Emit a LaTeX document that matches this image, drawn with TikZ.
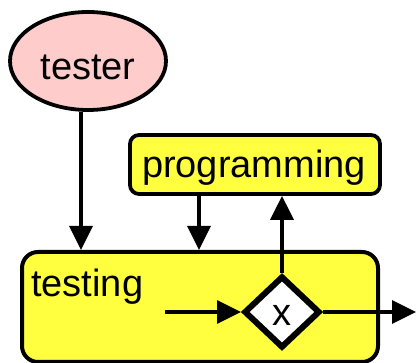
\documentclass[tikz,border=0pt]{standalone}
\usepackage{fontspec}
\setmainfont{Liberation Sans}
\usetikzlibrary{shapes.geometric,arrows.meta}
\definecolor{pinkfill}{RGB}{255,204,204}
\definecolor{yellowfill}{RGB}{255,255,64}
\tikzset{
  every node/.style={font=\fontsize{38}{44}\selectfont, inner sep=0pt},
  conn/.style={line width=3.5pt, -{Triangle[length=24pt,width=23pt]}},
  actor/.style={ellipse, draw, line width=3.8pt, fill=pinkfill, minimum width=156pt, minimum height=98pt},
  task/.style={draw, line width=3.8pt, fill=yellowfill, rounded corners=9pt},
  subproc/.style={draw, line width=4pt, fill=yellowfill, rounded corners=16pt},
  gateway/.style={diamond, draw, line width=6pt, fill=white, minimum width=76pt, minimum height=72pt, aspect=1.05}
}
\begin{document}
\begin{tikzpicture}[x=1pt,y=1pt]
\useasboundingbox (0,0) rectangle (416,363);
\node[subproc, minimum width=356pt, minimum height=110pt] (testing) at (200,56) {};
\node[anchor=base west] (tlabel) at (31,66) {testing};
\node[actor] (tester) at (88,302) {};
\node[anchor=base] (testertext) at (88,283) {tester};
\node[task, minimum width=250pt, minimum height=59pt] (programming) at (255,198.5) {};
\node[anchor=base] (progtext) at (254,185) {programming};
\node[gateway] (gw) at (282,51) {};
\node (gx) at (282,48) {x};
\coordinate (in) at (165,51);
\coordinate (out) at (416,51);
\draw[conn] ([xshift=-7pt]tester.south) -- ([xshift=-7pt]tester.south |- testing.north);
\draw[conn] ([xshift=-56pt]programming.south) -- ([xshift=-56pt]programming.south |- testing.north);
\draw[conn] (gw.north) -- (gw.north |- programming.south);
\draw[conn] (in) -- (gw.west);
\draw[conn] (gw.east) -- (out);
\end{tikzpicture}
\end{document}
